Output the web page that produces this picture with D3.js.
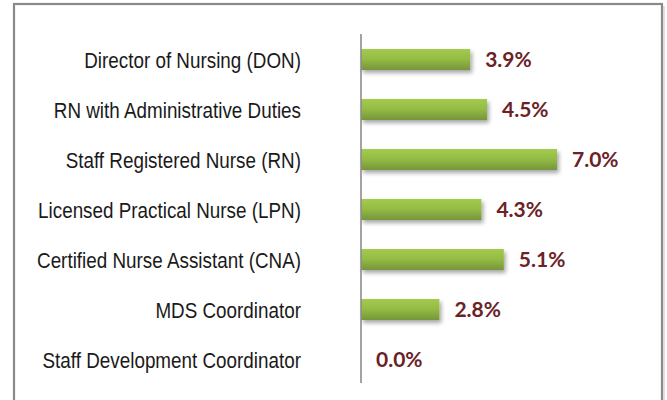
<!DOCTYPE html>
<meta charset="utf-8">
<style>
  body { margin: 0; background: #fff; }
  .cat { font-family: "Liberation Sans", Arial, sans-serif; font-size: 22.5px; fill: #1a1a1a; }
  .val { font-family: Lato, "Open Sans", sans-serif; font-weight: bold; font-size: 21px; fill: #6b2226; }
</style>
<body>
<svg width="667" height="400"></svg>
<script src="https://cdnjs.cloudflare.com/ajax/libs/d3/7.8.5/d3.min.js"></script>
<script>

var categories = [
  "Director of Nursing (DON)",
  "RN with Administrative Duties",
  "Staff Registered Nurse (RN)",
  "Licensed Practical Nurse (LPN)",
  "Certified Nurse Assistant (CNA)",
  "MDS Coordinator",
  "Staff Development Coordinator"
];
var values = [3.9, 4.5, 7.0, 4.3, 5.1, 2.8, 0.0];
var labels = ["3.9%", "4.5%", "7.0%", "4.3%", "5.1%", "2.8%", "0.0%"];

var data = categories.map((c, i) => ({cat: c, v: values[i], label: labels[i]}));

var svg = d3.select("svg");

// frame
svg.append("rect")
  .attr("x", 14).attr("y", 4)
  .attr("width", 648).attr("height", 420)
  .attr("fill", "none")
  .attr("stroke", "#8a8a8a")
  .attr("stroke-width", 2.2);
svg.append("line")
  .attr("x1", 664).attr("x2", 664).attr("y1", 6).attr("y2", 400)
  .attr("stroke", "#d4d4d4").attr("stroke-width", 1.5);

var defs = svg.append("defs");
var grad = defs.append("linearGradient")
  .attr("id", "barGrad").attr("x1", 0).attr("x2", 0).attr("y1", 0).attr("y2", 1);
grad.append("stop").attr("offset", "0%").attr("stop-color", "#a2cb4e");
grad.append("stop").attr("offset", "45%").attr("stop-color", "#95bd45");
grad.append("stop").attr("offset", "100%").attr("stop-color", "#76963a");

var shadow = defs.append("filter").attr("id", "shadow")
  .attr("x", "-10%").attr("y", "-30%").attr("width", "130%").attr("height", "180%");
shadow.append("feGaussianBlur").attr("in", "SourceAlpha").attr("stdDeviation", 2);
shadow.append("feOffset").attr("dx", 1.5).attr("dy", 2.5).attr("result", "off");
shadow.append("feComponentTransfer").append("feFuncA").attr("type", "linear").attr("slope", 0.35);
var merge = shadow.append("feMerge");
merge.append("feMergeNode");
merge.append("feMergeNode").attr("in", "SourceGraphic");

var x = d3.scaleLinear().domain([0, 7]).range([361, 557]);
var y = d3.scaleBand().domain(categories).range([34.5, 384.5]).paddingInner(0.58).paddingOuter(0.29);

// category labels (narrow face imitated by horizontal squeeze)
var squeeze = 0.838;
svg.append("g")
  .attr("transform", "scale(" + squeeze + ",1)")
  .selectAll(".cat")
  .data(data)
  .enter().append("text")
  .attr("class", "cat")
  .attr("x", 301 / squeeze)
  .attr("y", d => y(d.cat) + y.bandwidth() / 2)
  .attr("dy", "0.36em")
  .attr("text-anchor", "end")
  .text(d => d.cat);

// bars
svg.selectAll(".bar")
  .data(data.filter(d => d.v > 0))
  .enter().append("rect")
  .attr("class", "bar")
  .attr("x", x(0))
  .attr("y", d => y(d.cat))
  .attr("width", d => x(d.v) - x(0))
  .attr("height", y.bandwidth())
  .attr("fill", "url(#barGrad)")
  .attr("filter", "url(#shadow)");

// axis line
svg.append("line")
  .attr("x1", x(0)).attr("x2", x(0))
  .attr("y1", 34).attr("y2", 383)
  .attr("stroke", "#8c8c8c").attr("stroke-width", 1.6);

// value labels
svg.selectAll(".val")
  .data(data)
  .enter().append("text")
  .attr("class", "val")
  .attr("x", d => x(d.v) + 15)
  .attr("y", d => y(d.cat) + y.bandwidth() / 2)
  .attr("dy", "0.36em")
  .text(d => d.label);

</script>
